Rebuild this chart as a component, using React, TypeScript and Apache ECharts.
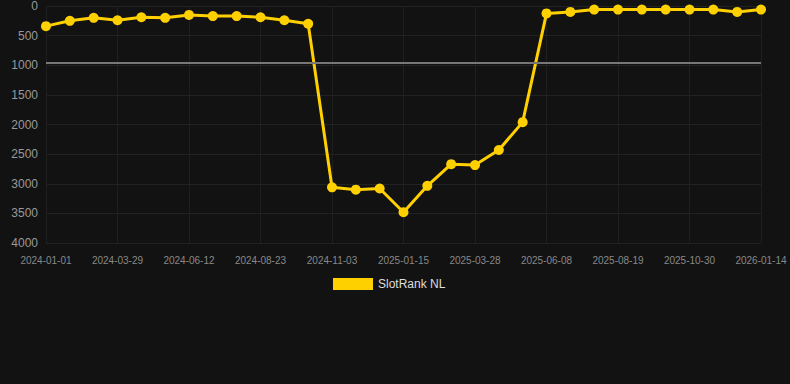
import React, { useEffect, useRef } from "react";
import * as echarts from "echarts";

const categories = [
  "2024-01-01", "2024-01-30", "2024-02-28", "2024-03-29", "2024-04-23", "2024-05-18",
  "2024-06-12", "2024-07-06", "2024-07-30", "2024-08-23", "2024-09-16", "2024-10-10",
  "2024-11-03", "2024-11-27", "2024-12-21", "2025-01-15", "2025-02-08", "2025-03-04",
  "2025-03-28", "2025-04-21", "2025-05-15", "2025-06-08", "2025-07-02", "2025-07-26",
  "2025-08-19", "2025-09-12", "2025-10-06", "2025-10-30", "2025-11-24", "2025-12-19",
  "2026-01-14",
];

const slotRankNL = [
  340, 250, 200, 240, 190, 200, 150, 170, 170, 190, 240, 300,
  3060, 3100, 3080, 3480, 3035, 2670, 2685, 2430, 1960, 125,
  100, 60, 60, 60, 60, 60, 60, 100, 60,
];

const referenceLevel = 950;
const yTicks = { min: 0, max: 4000, interval: 500 };

export default function App() {
  const ref = useRef<HTMLDivElement>(null);
  useEffect(() => {
    document.body.style.margin = "0";
    document.body.style.background = "#121212";
    const chart = echarts.init(ref.current!, null, { renderer: "svg" });
    chart.setOption({
      animation: false,
      backgroundColor: "#121212",
      grid: { left: 46, right: 29, top: 6, bottom: 141, containLabel: false },
      legend: {
        data: ["SlotRank NL"],
        top: 273,
        left: 328,
        itemWidth: 40,
        itemHeight: 12,
        icon: "rect",
        textStyle: { color: "#dddddd", fontSize: 12, fontFamily: "Arial, Liberation Sans, sans-serif" },
      },
      xAxis: {
        type: "category",
        data: categories,
        boundaryGap: false,
        axisLine: { show: false },
        axisTick: { show: false },
        axisLabel: {
          interval: 2,
          color: "#888888",
          fontSize: 10,
          margin: 12,
          fontFamily: "Arial, Liberation Sans, sans-serif",
        },
        splitLine: { show: true, interval: 2, lineStyle: { color: "#1f1f1f", width: 1 } },
      },
      yAxis: {
        type: "value",
        inverse: true,
        min: yTicks.min,
        max: yTicks.max,
        interval: yTicks.interval,
        axisLine: { show: false },
        axisTick: { show: false },
        axisLabel: {
          color: "#999999",
          fontSize: 12,
          margin: 8,
          formatter: (v: number) => String(v),
          fontFamily: "Arial, Liberation Sans, sans-serif",
        },
        splitLine: { lineStyle: { color: "#222222", width: 1 } },
      },
      series: [
        {
          name: "SlotRank NL",
          type: "line",
          data: slotRankNL,
          symbol: "circle",
          symbolSize: 10,
          itemStyle: { color: "#FFD000" },
          lineStyle: { color: "#FFD000", width: 3 },
          markLine: {
            silent: true,
            symbol: "none",
            label: { show: false },
            lineStyle: { color: "#777777", width: 2, type: "solid" },
            data: [{ yAxis: referenceLevel }],
          },
          z: 3,
        },
      ],
    });
    return () => chart.dispose();
  }, []);
  return <div ref={ref} style={{ width: 790, height: 384 }} />;
}
